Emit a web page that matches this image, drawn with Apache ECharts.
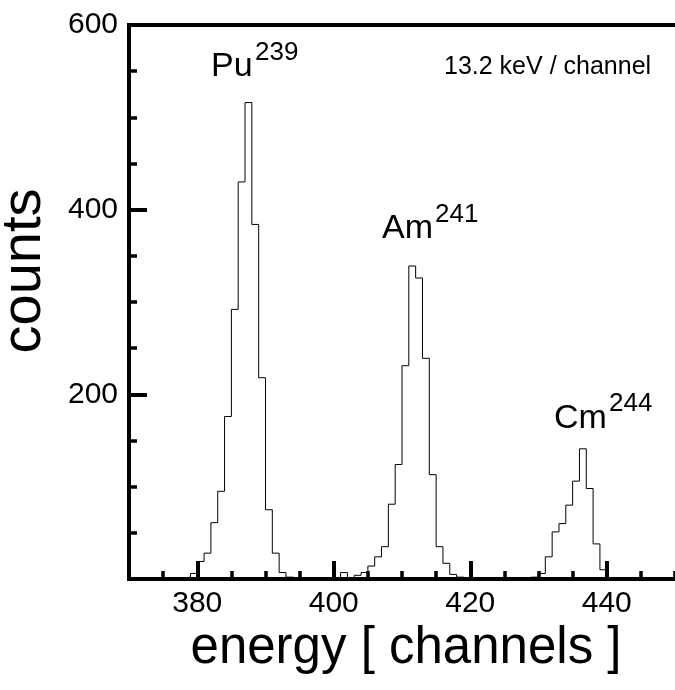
<!DOCTYPE html>
<html>
<head>
<meta charset="utf-8">
<script src="https://cdn.jsdelivr.net/npm/echarts@6/dist/echarts.min.js"></script>
<style>
  html, body { margin: 0; padding: 0; background: #fff; }
  #chart { width: 675px; height: 690px; }
</style>
</head>
<body>
<div id="chart"></div>
<script>
// Alpha spectrum: counts per channel (lower edge of each 1-channel bin)
const channels = [
  376, 377, 378, 379, 380, 381, 382, 383, 384, 385, 386, 387, 388, 389, 390,
  391, 392, 393, 394, 395, 396, 397, 398, 399, 400, 401, 402, 403, 404, 405,
  406, 407, 408, 409, 410, 411, 412, 413, 414, 415, 416, 417, 418, 419, 420,
  421, 422, 423, 424, 425, 426, 427, 428, 429, 430, 431, 432, 433, 434, 435,
  436, 437, 438, 439, 440
];
const counts = [
  0, 0, 2, 6, 19, 28, 61, 95, 176, 292, 430, 516, 384, 218, 75,
  28, 7, 2, 0, 0, 0, 0, 0, 0, 0, 7, 0, 4, 7, 14,
  24, 35, 81, 124, 231, 339, 326, 239, 113, 35, 17, 5, 2, 0, 0,
  0, 0, 0, 0, 0, 0, 0, 2, 2, 6, 24, 51, 60, 80, 106,
  141, 98, 38, 10, 0
];
const xMajorTicks = [380, 400, 420, 440];
const yMajorTicks = [200, 400, 600];

const FONT = '"Liberation Sans", Arial, Helvetica, sans-serif';
const INK = '#000';

const histData = channels.map((c, i) => [c, counts[i]]);

const chart = echarts.init(document.getElementById('chart'), null, { renderer: 'canvas' });

const thick = { color: INK, width: 4, cap: 'square' };

chart.setOption({
  animation: false,
  backgroundColor: '#fff',
  grid: { left: 129, right: -2, top: 25, bottom: 111, containLabel: false },
  xAxis: [
    {
      type: 'value', min: 370, max: 450, position: 'bottom',
      axisLine: { show: true, onZero: false, lineStyle: thick },
      axisTick: { show: true, inside: true, length: 18, customValues: xMajorTicks,
                  lineStyle: { color: INK, width: 4 } },
      axisLabel: { show: true, customValues: xMajorTicks, margin: 10,
                   color: INK, fontSize: 30, fontFamily: FONT },
      splitLine: { show: false }
    },
    {
      type: 'value', min: 370, max: 450, interval: 5, position: 'bottom',
      axisLine: { show: false },
      axisTick: { show: true, inside: true, length: 8, lineStyle: { color: INK, width: 3.5 } },
      axisLabel: { show: false },
      splitLine: { show: false }
    },
    {
      type: 'value', min: 370, max: 450, position: 'top',
      axisLine: { show: true, onZero: false, lineStyle: thick },
      axisTick: { show: false },
      axisLabel: { show: false },
      splitLine: { show: false }
    }
  ],
  yAxis: [
    {
      type: 'value', min: 0, max: 600, position: 'left',
      axisLine: { show: true, onZero: false, lineStyle: thick },
      axisTick: { show: true, inside: true, length: 18, customValues: yMajorTicks,
                  lineStyle: { color: INK, width: 4 } },
      axisLabel: { show: true, customValues: yMajorTicks, margin: 11,
                   color: INK, fontSize: 30, fontFamily: FONT },
      splitLine: { show: false }
    },
    {
      type: 'value', min: 0, max: 600, interval: 50, position: 'left',
      axisLine: { show: false },
      axisTick: { show: true, inside: true, length: 8, lineStyle: { color: INK, width: 3.5 } },
      axisLabel: { show: false },
      splitLine: { show: false }
    }
  ],
  series: [
    {
      type: 'line',
      xAxisIndex: 0, yAxisIndex: 0,
      step: 'end',
      data: histData,
      showSymbol: false,
      symbol: 'none',
      lineStyle: { color: INK, width: 1 },
      clip: true,
      z: 1
    }
  ],
  graphic: [
    // axis titles
    { type: 'text', x: 25, y: 271, rotation: Math.PI / 2,
      style: { text: 'counts', font: '56px ' + FONT, fill: INK, align: 'center', verticalAlign: 'middle' } },
    { type: 'text', x: 406, y: 649,
      style: { text: 'energy [ channels ]', font: '51px ' + FONT, fill: INK, align: 'center', verticalAlign: 'middle' } },
    // calibration note
    { type: 'text', x: 444, y: 67,
      style: { text: '13.2 keV / channel', font: '25px ' + FONT, fill: INK, align: 'left', verticalAlign: 'middle' } },
    // peak labels with mass numbers as superscripts
    { type: 'text', x: 211, y: 67,
      style: { text: 'Pu', font: '34px ' + FONT, fill: INK, align: 'left', verticalAlign: 'middle' } },
    { type: 'text', x: 255, y: 52.5,
      style: { text: '239', font: '26px ' + FONT, fill: INK, align: 'left', verticalAlign: 'middle' } },
    { type: 'text', x: 382, y: 229,
      style: { text: 'Am', font: '34px ' + FONT, fill: INK, align: 'left', verticalAlign: 'middle' } },
    { type: 'text', x: 435, y: 215,
      style: { text: '241', font: '26px ' + FONT, fill: INK, align: 'left', verticalAlign: 'middle' } },
    { type: 'text', x: 554, y: 419,
      style: { text: 'Cm', font: '34px ' + FONT, fill: INK, align: 'left', verticalAlign: 'middle' } },
    { type: 'text', x: 609, y: 404,
      style: { text: '244', font: '26px ' + FONT, fill: INK, align: 'left', verticalAlign: 'middle' } }
  ]
});
</script>
</body>
</html>
